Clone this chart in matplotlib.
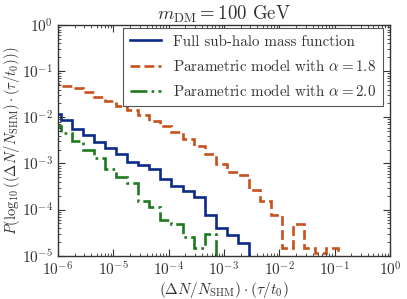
import numpy as np
import matplotlib
matplotlib.use("Agg")
import matplotlib.pyplot as plt

plt.rcParams['font.family'] = ['cmr10', 'DejaVu Serif']
plt.rcParams['mathtext.fontset'] = 'cm'
plt.rcParams['axes.formatter.use_mathtext'] = True
plt.rcParams['axes.unicode_minus'] = False

# log10 bin edges of the histograms (0.2 dex wide)
log_edges = np.round(np.arange(-6.15, 0.06, 0.2), 2)

# log10 of P in each bin (missing bins are empty)
full_shm = [-1.93, -2.065, -2.246, -2.376, -2.537, -2.659, -2.789, -2.972,
            -3.028, -3.130, -3.348, -3.500, -3.602, -3.733, -4.115, -4.406,
            -4.543, -4.732]
alpha_18 = [-1.283, -1.326, -1.370, -1.457, -1.554, -1.652, -1.750, -1.848,
            -1.957, -2.087, -2.196, -2.320, -2.463, -2.624, -2.789, -3.007,
            -3.189, -3.246, -3.587, -3.804, -4.109, -4.841, -4.311, -4.841,
            -4.935, -4.841]
alpha_20 = [-2.196, -2.333, -2.522, -2.717, -2.876, -3.115, -3.298, -3.420,
            -3.804, -3.950, -4.224, -4.311, -4.602, -4.841, -4.528]

labels = ["Full sub-halo mass function",
          r"Parametric model with $\alpha = 1.8$",
          r"Parametric model with $\alpha = 2.0$"]


def to_counts(logs):
    v = np.full(len(log_edges) - 1, 1e-9)
    v[:len(logs)] = 10.0 ** np.array(logs)
    return v


edges = 10.0 ** log_edges

fig = plt.figure(figsize=(4.07, 2.99), dpi=100)
ax = fig.add_axes([0.1425, 0.145, 0.816, 0.771])

ax.stairs(to_counts(full_shm), edges, baseline=None, color='#0b2a8a',
          lw=1.9, ls='-', label=labels[0])
ax.stairs(to_counts(alpha_18), edges, baseline=None, color='#c8521c',
          lw=1.9, ls='--', label=labels[1])
ax.stairs(to_counts(alpha_20), edges, baseline=None, color='#1f7a1f',
          lw=1.9, ls='-.', label=labels[2])

ax.set_xscale('log')
ax.set_yscale('log')
ax.set_xlim(1e-6, 1)
ax.set_ylim(1e-5, 1)

ax.tick_params(which='both', direction='in', top=True, right=True,
               labelsize=11, colors='#333333')
ax.tick_params(which='major', length=5, width=0.8)
ax.tick_params(which='minor', length=2.5, width=0.6)
for s in ax.spines.values():
    s.set_color('#333333')
    s.set_linewidth(1.0)

ax.set_xlabel(r'$(\Delta N/N_{\rm SHM})\cdot(\tau/t_0)$', fontsize=11,
              color='#333333', labelpad=1)
ax.set_ylabel(r'$P(\log_{10}((\Delta N/N_{\rm SHM})\cdot(\tau/t_0)))$',
              fontsize=10.5, color='#333333')
ax.yaxis.set_label_coords(-0.108, 0.5)
ax.set_title(r'$m_{\rm DM} = 100$ GeV', fontsize=13.5, color='#333333', pad=3)

leg = ax.legend(loc='upper right', bbox_to_anchor=(0.978, 0.987),
                fontsize=10.8, handlelength=2.1, handletextpad=0.8,
                fancybox=False, framealpha=1, edgecolor='#555555',
                borderaxespad=0.0, labelspacing=0.62, borderpad=0.45)
leg.get_frame().set_linewidth(0.8)
for t in leg.get_texts():
    t.set_color('#333333')

fig.savefig('out.png', dpi=100)
